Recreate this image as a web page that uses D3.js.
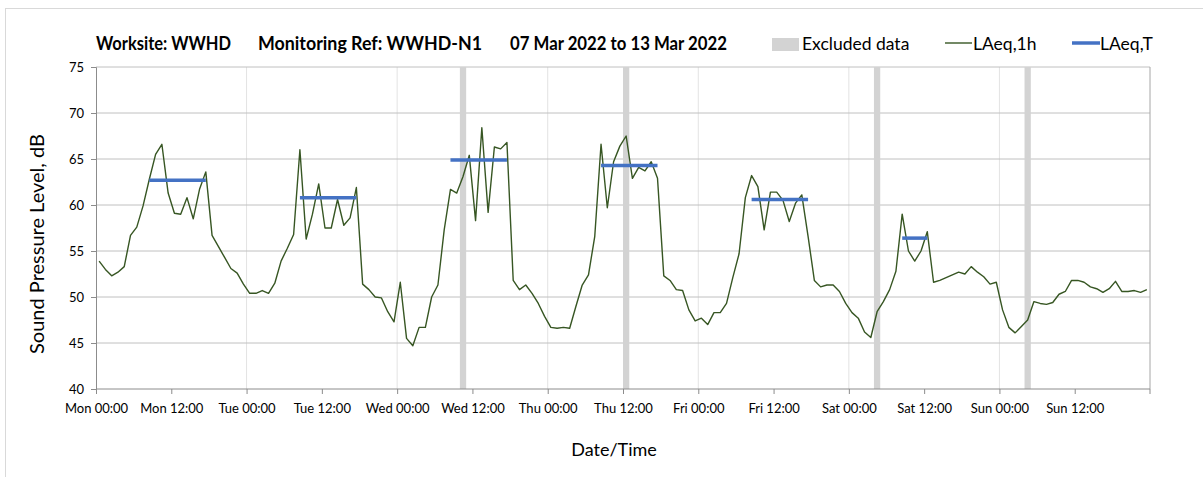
<!DOCTYPE html>
<meta charset="utf-8">
<style>
body { margin: 0; background: #fff; }
text { font-family: Lato, "Open Sans", sans-serif; fill: #000; }
.tick text { font-size: 13px; }
.title { font-size: 18px; font-weight: bold; }
.legend text { font-size: 17.5px; }
.axis-title { font-size: 18px; }
</style>
<svg id="chart" width="1203" height="477"></svg>
<script src="https://d3js.org/d3.v7.min.js"></script>
<script>

// hourly LAeq,1h from Mon 00:00 to Sun 23:00
var laeq1h = [
  53.9, 53.0, 52.3, 52.7, 53.3, 56.7, 57.6, 59.9, 62.8, 65.5, 66.6, 61.3,
  59.1, 59.0, 60.8, 58.5, 61.7, 63.6, 56.7, 55.5, 54.3, 53.1, 52.6, 51.4,
  50.4, 50.4, 50.7, 50.4, 51.5, 53.9, 55.3, 56.8, 66.0, 56.3, 59.0, 62.3,
  57.5, 57.5, 60.6, 57.8, 58.6, 61.9, 51.4, 50.8, 50.0, 49.9, 48.4, 47.3,
  51.6, 45.5, 44.7, 46.7, 46.7, 50.0, 51.3, 57.3, 61.7, 61.3, 63.1, 65.4,
  58.3, 68.4, 59.2, 66.3, 66.1, 66.8, 51.8, 50.8, 51.3, 50.4, 49.3, 47.9,
  46.7, 46.6, 46.7, 46.6, 49.0, 51.3, 52.4, 56.6, 66.6, 59.7, 64.7, 66.4,
  67.5, 62.9, 64.1, 63.7, 64.7, 62.9, 52.3, 51.8, 50.8, 50.7, 48.6, 47.4,
  47.7, 47.0, 48.3, 48.3, 49.3, 52.1, 54.7, 60.8, 63.2, 62.0, 57.3, 61.4,
  61.4, 60.5, 58.2, 60.2, 61.1, 56.6, 51.8, 51.1, 51.3, 51.3, 50.6, 49.3,
  48.3, 47.7, 46.2, 45.6, 48.4, 49.5, 50.8, 52.8, 59.0, 55.0, 53.9, 55.0,
  57.1, 51.6, 51.8, 52.1, 52.4, 52.7, 52.5, 53.3, 52.7, 52.2, 51.4, 51.6,
  48.6, 46.7, 46.1, 46.8, 47.5, 49.5, 49.3, 49.2, 49.4, 50.3, 50.6, 51.8,
  51.8, 51.6, 51.1, 50.9, 50.5, 50.9, 51.7, 50.6, 50.6, 50.7, 50.5, 50.8
];

// LAeq,T periods: first and last hour index, level
var periodStart = [8, 32, 56, 80, 104, 128];
var periodEnd   = [17, 41, 65, 89, 113, 132];
var periodLevel = [62.7, 60.8, 64.9, 64.3, 60.6, 56.4];

// excluded hours (index from Mon 00:00)
var excludedHours = [58, 84, 124, 148];

var dayNames = ["Mon", "Tue", "Wed", "Thu", "Fri", "Sat", "Sun"];
var yTicks = [40, 45, 50, 55, 60, 65, 70, 75];

var svg = d3.select("#chart");

var plotLeft = 96, plotRight = 1150, plotTop = 67, plotBottom = 389;

var x = d3.scaleLinear().domain([0, 168]).range([plotLeft, plotRight]);
var y = d3.scaleLinear().domain([40, 75]).range([plotBottom, plotTop]);

// outer frame
svg.append("rect")
    .attr("x", 5.5).attr("y", 8.5)
    .attr("width", 1220).attr("height", 500)
    .attr("fill", "none").attr("stroke", "#d9d9d9");

// vertical day gridlines
svg.append("g").selectAll("line")
    .data(d3.range(24, 168, 24))
  .enter().append("line")
    .attr("x1", function(d) { return x(d); })
    .attr("x2", function(d) { return x(d); })
    .attr("y1", plotTop).attr("y2", plotBottom)
    .attr("stroke", "#e3e3e3");

// horizontal gridlines
svg.append("g").selectAll("line")
    .data(yTicks.slice(1))
  .enter().append("line")
    .attr("x1", plotLeft).attr("x2", plotRight)
    .attr("y1", function(d) { return y(d); })
    .attr("y2", function(d) { return y(d); })
    .attr("stroke", "#c0c0c0");

// right border
svg.append("line")
    .attr("x1", plotRight).attr("x2", plotRight)
    .attr("y1", plotTop).attr("y2", plotBottom)
    .attr("stroke", "#a6a6a6");

// excluded bands
svg.append("g").selectAll("rect")
    .data(excludedHours)
  .enter().append("rect")
    .attr("x", function(d) { return x(d); })
    .attr("width", function(d) { return x(d + 1) - x(d); })
    .attr("y", plotTop).attr("height", plotBottom - plotTop)
    .attr("fill", "#d3d3d3");

// axes
var yAxis = d3.axisLeft(y).tickValues(yTicks).tickSize(5).tickPadding(7);
var gy = svg.append("g").attr("transform", "translate(" + plotLeft + ",0)").call(yAxis);
gy.selectAll("path, line").attr("stroke", "#8c8c8c");

var xAxis = d3.axisBottom(x)
    .tickValues(d3.range(0, 168, 12))
    .tickSize(5).tickPadding(10)
    .tickFormat(function(d) { return dayNames[Math.floor(d / 24)] + " " + (d % 24 === 0 ? "00:00" : "12:00"); });
var gx = svg.append("g").attr("transform", "translate(0," + plotBottom + ")").call(xAxis);
gx.select(".domain").attr("d", "M" + plotLeft + ",0H" + plotRight + "V5");
gx.selectAll("path, line").attr("stroke", "#8c8c8c");

// LAeq,1h line
var line = d3.line()
    .x(function(d, i) { return x(i + 0.5); })
    .y(function(d) { return y(d); });

svg.append("path")
    .datum(laeq1h)
    .attr("d", line)
    .attr("fill", "none")
    .attr("stroke", "#375623")
    .attr("stroke-width", 1.4)
    .attr("stroke-linejoin", "round");

// LAeq,T segments
svg.append("g").selectAll("line")
    .data(periodLevel)
  .enter().append("line")
    .attr("x1", function(d, i) { return x(periodStart[i] + 0.5); })
    .attr("x2", function(d, i) { return x(periodEnd[i] + 0.5); })
    .attr("y1", function(d) { return y(d); })
    .attr("y2", function(d) { return y(d); })
    .attr("stroke", "#4472c4")
    .attr("stroke-width", 3.5);

// title
svg.append("text").attr("class", "title").attr("x", 96).attr("y", 50)
    .attr("textLength", 135).attr("lengthAdjust", "spacingAndGlyphs").text("Worksite: WWHD");
svg.append("text").attr("class", "title").attr("x", 258).attr("y", 50)
    .attr("textLength", 224).attr("lengthAdjust", "spacingAndGlyphs").text("Monitoring Ref: WWHD-N1");
svg.append("text").attr("class", "title").attr("x", 510).attr("y", 50)
    .attr("textLength", 217).attr("lengthAdjust", "spacingAndGlyphs").text("07 Mar 2022 to 13 Mar 2022");

// legend
var legend = svg.append("g").attr("class", "legend");
legend.append("rect").attr("x", 772).attr("y", 38).attr("width", 27).attr("height", 13).attr("fill", "#d3d3d3");
legend.append("text").attr("x", 802).attr("y", 50).text("Excluded data");
legend.append("line").attr("x1", 945).attr("x2", 972).attr("y1", 43).attr("y2", 43)
    .attr("stroke", "#375623").attr("stroke-width", 1.4);
legend.append("text").attr("x", 973).attr("y", 50).text("LAeq,1h");
legend.append("line").attr("x1", 1072).attr("x2", 1100).attr("y1", 43).attr("y2", 43)
    .attr("stroke", "#4472c4").attr("stroke-width", 3.5);
legend.append("text").attr("x", 1100).attr("y", 50).text("LAeq,T");

// axis titles
svg.append("text").attr("class", "axis-title")
    .attr("transform", "translate(44,244) rotate(-90)")
    .attr("text-anchor", "middle")
    .style("font-size", "20px")
    .text("Sound Pressure Level, dB");
svg.append("text").attr("class", "axis-title")
    .attr("x", 614).attr("y", 456)
    .attr("text-anchor", "middle")
    .text("Date/Time");

</script>
